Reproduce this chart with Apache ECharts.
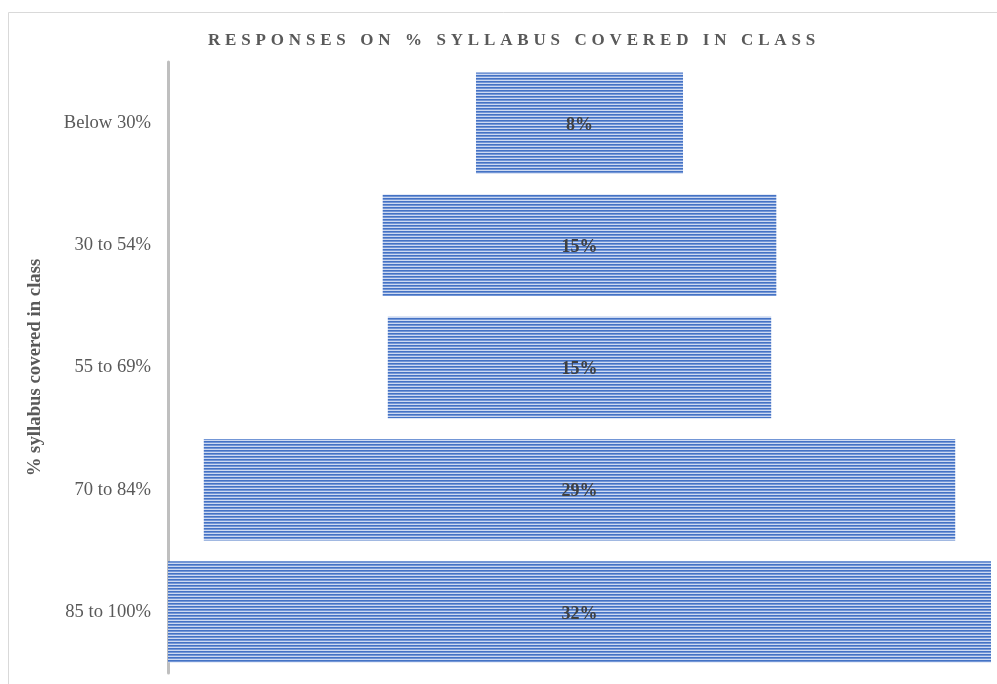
<!DOCTYPE html>
<html><head><meta charset="utf-8">
<script src="https://cdn.jsdelivr.net/npm/echarts@6/dist/echarts.min.js"></script>
<style>html,body{margin:0;padding:0;background:#fff}#c{width:997px;height:684px}</style>
</head><body><div id="c"></div>
<script>
const categories = ['Below 30%', '30 to 54%', '55 to 69%', '70 to 84%', '85 to 100%'];
const values = [8.1, 15.4, 15.0, 29.4, 32.2];
const labels = ['8%', '15%', '15%', '29%', '32%'];
const titleText = 'RESPONSES ON % SYLLABUS COVERED IN CLASS';
const axisName = '% syllabus covered in class';

const maxV = Math.max(...values);
const offsets = values.map(v => (maxV - v) / 2);

// striped fill
const pc = document.createElement('canvas');
pc.width = 4; pc.height = 3;
const px = pc.getContext('2d');
const rows = ['#4472c4', '#7396d6', '#cdd9f1'];
rows.forEach((c, i) => { px.fillStyle = c; px.fillRect(0, i, 4, 1); });

const spaced = titleText.split(' ').map(w => w.split('').join('\u2009\u200A')).join('\u2009\u2009 \u2009');

const chart = echarts.init(document.getElementById('c'));
chart.setOption({
  animation: false,
  title: {
    text: spaced, left: 203, top: 27,
    textStyle: { fontFamily: 'Liberation Serif', fontWeight: 'bold', fontSize: 17, color: '#595959' }
  },
  graphic: [{
    type: 'rect', silent: true, z: -1,
    shape: { x: 8.5, y: 12.5, width: 1000, height: 700 },
    style: { fill: 'none', stroke: '#d9d9d9', lineWidth: 1 }
  }],
  grid: { left: 168, right: 6, top: 62, bottom: 11, containLabel: false },
  xAxis: { type: 'value', min: 0, max: maxV, show: false },
  yAxis: {
    type: 'category', data: categories, inverse: true,
    name: axisName, nameLocation: 'middle', nameGap: 123, nameRotate: 90,
    nameTextStyle: { fontFamily: 'Liberation Serif', fontWeight: 'bold', fontSize: 18.8, color: '#595959' },
    axisLine: { show: true, lineStyle: { color: '#bfbfbf', width: 3 } },
    axisTick: { show: false },
    axisLabel: { margin: 17, padding: [4, 0, 0, 0], fontFamily: 'Liberation Serif', fontSize: 18.6, color: '#595959' }
  },
  series: [
    {
      type: 'bar', stack: 's', data: offsets, silent: true,
      itemStyle: { color: 'transparent' }, barCategoryGap: '17%'
    },
    {
      type: 'bar', stack: 's', data: values, barCategoryGap: '17%',
      itemStyle: { color: { image: pc, repeat: 'repeat' } },
      label: {
        show: true, position: 'inside', offset: [0, 2],
        formatter: p => labels[p.dataIndex],
        fontFamily: 'Liberation Serif', fontWeight: 'bold', fontSize: 18, color: '#404040'
      }
    }
  ]
});
</script></body></html>
